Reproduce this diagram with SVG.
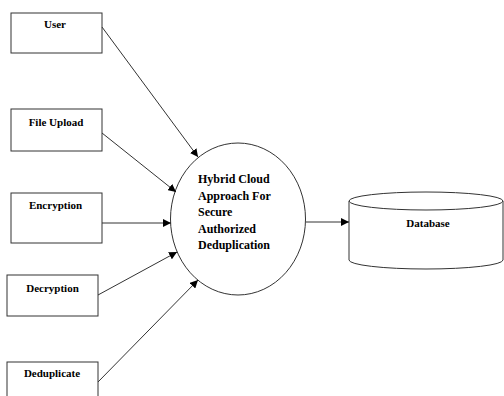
<svg xmlns="http://www.w3.org/2000/svg" width="504" height="396" viewBox="0 0 504 396">
<defs>
<style>
.box{fill:#fff;stroke:#333;stroke-width:1}
.lbl{font-family:"Liberation Serif","Times New Roman",serif;font-weight:bold;font-size:11px;fill:#000;text-anchor:middle}
.ctext{font-family:"Liberation Serif","Times New Roman",serif;font-weight:bold;font-size:12px;fill:#000}
.conn{stroke:#333;stroke-width:1;fill:none;marker-end:url(#arr)}
</style>
<marker id="arr" viewBox="0 0 10 10" refX="10" refY="5" markerWidth="8" markerHeight="8" markerUnits="userSpaceOnUse" orient="auto">
<path d="M0,0 L10,5 L0,10 Z" fill="#000"/>
</marker>
</defs>
<rect width="504" height="396" fill="#fff"/>
<g id="user"><rect class="box" x="11" y="13" width="91" height="40"/><text class="lbl" x="55" y="28">User</text></g>
<g id="fileupload"><rect class="box" x="11" y="109" width="91" height="42"/><text class="lbl" x="56" y="126">File Upload</text></g>
<g id="encryption"><rect class="box" x="11" y="193" width="91" height="50"/><text class="lbl" x="55.5" y="209">Encryption</text></g>
<g id="decryption"><rect class="box" x="7" y="275" width="91" height="41"/><text class="lbl" x="52.5" y="292">Decryption</text></g>
<g id="deduplicate"><rect class="box" x="7" y="362" width="91" height="50"/><text class="lbl" x="52" y="377">Deduplicate</text></g>
<g id="hybrid"><ellipse class="box" cx="238" cy="219" rx="67.5" ry="76"/>
<text class="ctext" x="198" y="183">Hybrid Cloud</text>
<text class="ctext" x="198" y="199.5">Approach For</text>
<text class="ctext" x="198" y="216">Secure</text>
<text class="ctext" x="198" y="232.5">Authorized</text>
<text class="ctext" x="198" y="249">Deduplication</text></g>
<g id="database">
<path class="box" d="M349,201 L349,260 A77,9 0 0 0 503,260 L503,201"/>
<ellipse class="box" cx="426" cy="201" rx="77" ry="9"/>
<text class="lbl" x="428" y="227">Database</text></g>
<g id="connectors">
<line class="conn" x1="102" y1="27" x2="198" y2="157"/>
<line class="conn" x1="102" y1="133" x2="176" y2="192"/>
<line class="conn" x1="102" y1="223" x2="171" y2="223"/>
<line class="conn" x1="98" y1="295" x2="177" y2="252"/>
<line class="conn" x1="98" y1="382" x2="198" y2="280"/>
<line class="conn" x1="306" y1="222" x2="349" y2="222"/>
</g>
</svg>
